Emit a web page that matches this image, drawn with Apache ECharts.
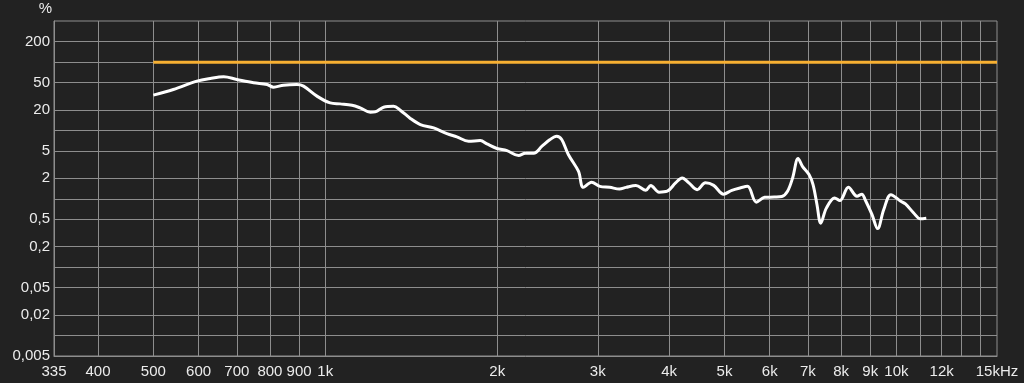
<!DOCTYPE html>
<html>
<head>
<meta charset="utf-8">
<script src="https://cdn.jsdelivr.net/npm/echarts@6/dist/echarts.min.js"></script>
<style>
html,body{margin:0;padding:0;background:#222222;}
#c{width:1024px;height:383px;}
</style>
</head>
<body>
<div id="c"></div>
<script>
// Measured curve (Hz, %)
var freqs = [500, 542, 596, 629, 664, 700, 749, 791, 812, 845, 892, 916, 967, 1020, 1062, 1114, 1151, 1199, 1223, 1265, 1317, 1353, 1409, 1467, 1548, 1633, 1700, 1782, 1868, 1919, 1998, 2080, 2180, 2240, 2317, 2396, 2475, 2542, 2594, 2664, 2775, 2830, 2926, 3025, 3148, 3274, 3362, 3499, 3641, 3714, 3841, 3970, 4105, 4216, 4331, 4478, 4630, 4787, 4981, 5150, 5323, 5487, 5685, 5877, 6113, 6300, 6447, 6580, 6728, 6846, 7030, 7145, 7260, 7370, 7539, 7795, 7960, 8240, 8530, 8700, 8820, 9060, 9270, 9500, 9780, 10160, 10370, 10720, 11010, 11280];
var values = [32.9, 39.8, 52.7, 57.7, 61, 55.8, 50, 47, 43, 46, 47, 44.5, 31.8, 25.3, 24.5, 23.4, 21.4, 18.5, 18.7, 21.9, 22.6, 19.8, 15, 12.2, 10.9, 9.0, 8.05, 6.96, 7.1, 6.35, 5.44, 5.07, 4.3, 4.65, 4.65, 5.88, 7.37, 8.24, 7.37, 4.45, 2.53, 1.47, 1.75, 1.52, 1.47, 1.39, 1.47, 1.56, 1.33, 1.57, 1.25, 1.29, 1.71, 2.02, 1.71, 1.36, 1.71, 1.57, 1.17, 1.33, 1.44, 1.52, 0.89, 1.05, 1.06, 1.08, 1.29, 2.02, 3.88, 2.99, 2.26, 1.61, 0.82, 0.44, 0.73, 1.03, 0.94, 1.47, 1.09, 1.17, 0.96, 0.59, 0.366, 0.69, 1.15, 0.93, 0.84, 0.62, 0.51, 0.52];
// Limit line
var limitFreqs = [500, 15000];
var limitValues = [100, 100];
// Axis ticks / labels
var xTickValues = [400, 500, 600, 700, 800, 900, 1000, 2000, 3000, 4000, 5000, 6000, 7000, 8000, 9000, 10000, 11000, 12000, 13000, 14000];
var xLabelValues = [335, 400, 500, 600, 700, 800, 900, 1000, 2000, 3000, 4000, 5000, 6000, 7000, 8000, 9000, 10000, 12000, 15000];
var yTickValues = [0.01, 0.02, 0.05, 0.1, 0.2, 0.5, 1, 2, 5, 10, 20, 50, 100, 200];
var yLabelValues = [0.005, 0.02, 0.05, 0.2, 0.5, 2, 5, 20, 50, 200];

function zip(a, b) { return a.map(function (v, i) { return [v, b[i]]; }); }

var chart = echarts.init(document.getElementById('c'), null, {renderer: 'canvas'});
var gridColor = '#8e8e8e';
var txt = {color: '#ececec', fontSize: 15, fontFamily: 'Liberation Sans, Arial, sans-serif'};
chart.setOption({
  backgroundColor: '#222222',
  animation: false,
  grid: {left: 54, right: 27, top: 21, bottom: 27, show: true, borderColor: gridColor, borderWidth: 1, backgroundColor: 'transparent'},
  xAxis: {
    type: 'log', logBase: 10, min: 335, max: 15000,
    axisLine: {show: true, lineStyle: {color: gridColor}},
    axisTick: {show: false, customValues: xTickValues},
    splitLine: {show: true, lineStyle: {color: gridColor, width: 1}},
    minorSplitLine: {show: false},
    axisLabel: Object.assign({}, txt, {
      customValues: xLabelValues, margin: 8,
      formatter: function (v) {
        v = Math.round(v);
        if (v >= 15000) return '15kHz';
        if (v >= 1000) return (v / 1000) + 'k';
        return String(v);
      }
    })
  },
  yAxis: {
    type: 'log', logBase: 10, min: 0.005, max: 400,
    name: '%', nameLocation: 'end', nameGap: 5,
    nameTextStyle: Object.assign({}, txt, {align: 'right', padding: [0, 2, 0, 0]}),
    axisLine: {show: true, lineStyle: {color: gridColor}},
    axisTick: {show: false, customValues: yTickValues},
    splitLine: {show: true, lineStyle: {color: gridColor, width: 1}},
    axisLabel: Object.assign({}, txt, {
      customValues: yLabelValues, margin: 4,
      formatter: function (v) {
        var s = String(parseFloat(v.toPrecision(6)));
        return s.replace('.', ',');
      }
    })
  },
  series: [
    {
      type: 'line', data: zip(limitFreqs, limitValues), showSymbol: false,
      lineStyle: {color: '#f7b032', width: 3}, z: 3
    },
    {
      type: 'line', data: zip(freqs, values), showSymbol: false, smooth: 0.35,
      lineStyle: {color: '#ffffff', width: 3}, z: 4
    }
  ]
});
</script>
</body>
</html>
